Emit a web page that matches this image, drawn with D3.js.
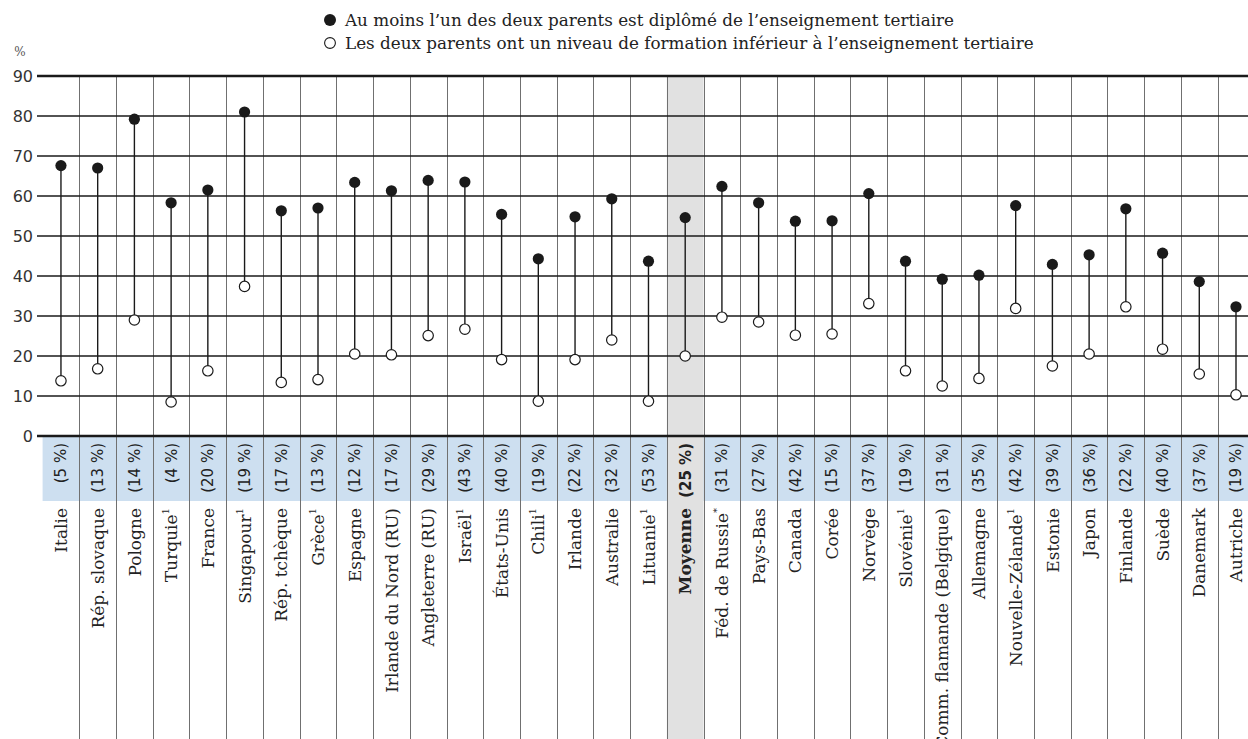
<!DOCTYPE html>
<html><head><meta charset="utf-8">
<script src="https://cdn.jsdelivr.net/npm/d3@7"></script>
<style>body{margin:0;background:#fff}svg{display:block}</style>
</head><body>
<svg id="c" width="1248" height="739"></svg>
<script>
const countries = ["Italie","Rép. slovaque","Pologne","Turquie","France","Singapour","Rép. tchèque","Grèce","Espagne","Irlande du Nord (RU)","Angleterre (RU)","Israël","États-Unis","Chili","Irlande","Australie","Lituanie","Moyenne","Féd. de Russie","Pays-Bas","Canada","Corée","Norvège","Slovénie","Comm. flamande (Belgique)","Allemagne","Nouvelle-Zélande","Estonie","Japon","Finlande","Suède","Danemark","Autriche"];
const notes = ["","","","1","","1","","1","","","","1","","1","","","1","","*","","","","","1","","","1","","","","","",""];
const shares = ["5","13","14","4","20","19","17","13","12","17","29","43","40","19","22","32","53","25","31","27","42","15","37","19","31","35","42","39","36","22","40","37","19"];
const tertiary = [67.6,67.0,79.2,58.3,61.5,81.0,56.3,57.0,63.4,61.3,63.9,63.5,55.4,44.3,54.8,59.3,43.7,54.6,62.4,58.3,53.7,53.8,60.6,43.7,39.2,40.2,57.6,42.9,45.3,56.8,45.7,38.6,32.3];
const belowTertiary = [13.8,16.8,29.0,8.5,16.3,37.4,13.4,14.1,20.5,20.3,25.1,26.7,19.1,8.7,19.1,24.0,8.7,20.0,29.7,28.5,25.2,25.5,33.1,16.3,12.5,14.4,31.9,17.5,20.5,32.3,21.7,15.5,10.3];
const yTicks = [0,10,20,30,40,50,60,70,80,90];
const legendLabels = ["Au moins l\u2019un des deux parents est diplômé de l\u2019enseignement tertiaire","Les deux parents ont un niveau de formation inférieur à l\u2019enseignement tertiaire"];
const avgName = "Moyenne";

const svg = d3.select("#c");
const W = 1248, H = 739;
const plotTop = 76, base = 436, bandBottom = 501;
const x = d3.scaleBand().domain(countries).range([42.6, 42.6 + 33*36.72]).padding(0);
const y = d3.scaleLinear().domain([0,90]).range([base, plotTop]);
const bw = x.bandwidth();
const cx = c => x(c) + bw/2;
const serif = "'DejaVu Serif', serif";
const sans = "'DejaVu Sans', sans-serif";

// percent band
svg.append("rect").attr("x", x(countries[0])).attr("y", base).attr("width", W - x(countries[0])).attr("height", bandBottom - base).attr("fill", "#cddff0");
// average column
svg.append("rect").attr("x", x(avgName)).attr("y", plotTop).attr("width", bw).attr("height", H - plotTop).attr("fill", "#e1e1e1");

// vertical separators
svg.append("g").selectAll("line").data(countries.slice(1)).join("line")
  .attr("x1", d => Math.round(x(d)) + 0.5).attr("x2", d => Math.round(x(d)) + 0.5)
  .attr("y1", plotTop).attr("y2", H).attr("stroke", "#707070").attr("stroke-width", 1);

// horizontal gridlines
svg.append("g").selectAll("line").data(yTicks).join("line")
  .attr("x1", 37).attr("x2", W)
  .attr("y1", d => y(d)).attr("y2", d => y(d))
  .attr("stroke", "#1a1a1a").attr("stroke-width", d => (d === 0 || d === 90) ? 2.6 : 1.4);

// y axis labels
const yAxis = d3.axisLeft(y).tickValues(yTicks).tickSize(0).tickPadding(0);
const gy = svg.append("g").attr("transform", "translate(33,0)").call(yAxis);
gy.select(".domain").remove();
gy.selectAll("text").attr("font-family", sans).attr("font-size", 16).attr("fill", "#333");
svg.append("text").attr("x", 20).attr("y", 56).attr("text-anchor", "middle").attr("font-family", serif).attr("font-size", 12).attr("fill", "#555").text("%");

// connectors
svg.append("g").selectAll("line").data(countries).join("line")
  .attr("x1", cx).attr("x2", cx)
  .attr("y1", (d,i) => y(tertiary[i])).attr("y2", (d,i) => y(belowTertiary[i]))
  .attr("stroke", "#1a1a1a").attr("stroke-width", 1.4);
// points
svg.append("g").selectAll("circle").data(countries).join("circle")
  .attr("cx", cx).attr("cy", (d,i) => y(belowTertiary[i])).attr("r", 5.2)
  .attr("fill", "#fff").attr("stroke", "#1a1a1a").attr("stroke-width", 1.2);
svg.append("g").selectAll("circle").data(countries).join("circle")
  .attr("cx", cx).attr("cy", (d,i) => y(tertiary[i])).attr("r", 5.6)
  .attr("fill", "#1a1a1a");

// percent labels
svg.append("g").selectAll("text").data(countries).join("text")
  .attr("transform", d => `translate(${cx(d)},443) rotate(-90)`)
  .attr("text-anchor", "end").attr("dy", "0.36em")
  .attr("font-family", sans).attr("font-size", 15).attr("fill", "#222")
  .attr("font-weight", d => d === avgName ? "bold" : "normal")
  .text((d,i) => `(${shares[i]} %)`);

// country labels
const cl = svg.append("g").selectAll("text").data(countries).join("text")
  .attr("transform", d => `translate(${cx(d)},508) rotate(-90)`)
  .attr("text-anchor", "end").attr("dy", "0.36em")
  .attr("font-family", serif).attr("font-size", 17).attr("fill", "#222")
  .attr("font-weight", d => d === avgName ? "bold" : "normal");
cl.append("tspan").text(d => d);
cl.append("tspan").attr("font-size", 10).attr("dy", "-0.8em").text((d,i) => notes[i]);

// legend
const lg = svg.append("g");
legendLabels.forEach((t,i) => {
  const ly = 20 + i*23;
  lg.append("circle").attr("cx", 330).attr("cy", ly).attr("r", i === 0 ? 6 : 5.4)
    .attr("fill", i === 0 ? "#1a1a1a" : "#fff").attr("stroke", "#1a1a1a").attr("stroke-width", i === 0 ? 0 : 1.1);
  lg.append("text").attr("x", 345).attr("y", ly).attr("dy", "0.36em")
    .attr("font-family", serif).attr("font-size", 16.8).attr("fill", "#222").text(t);
});
</script>
</body></html>
